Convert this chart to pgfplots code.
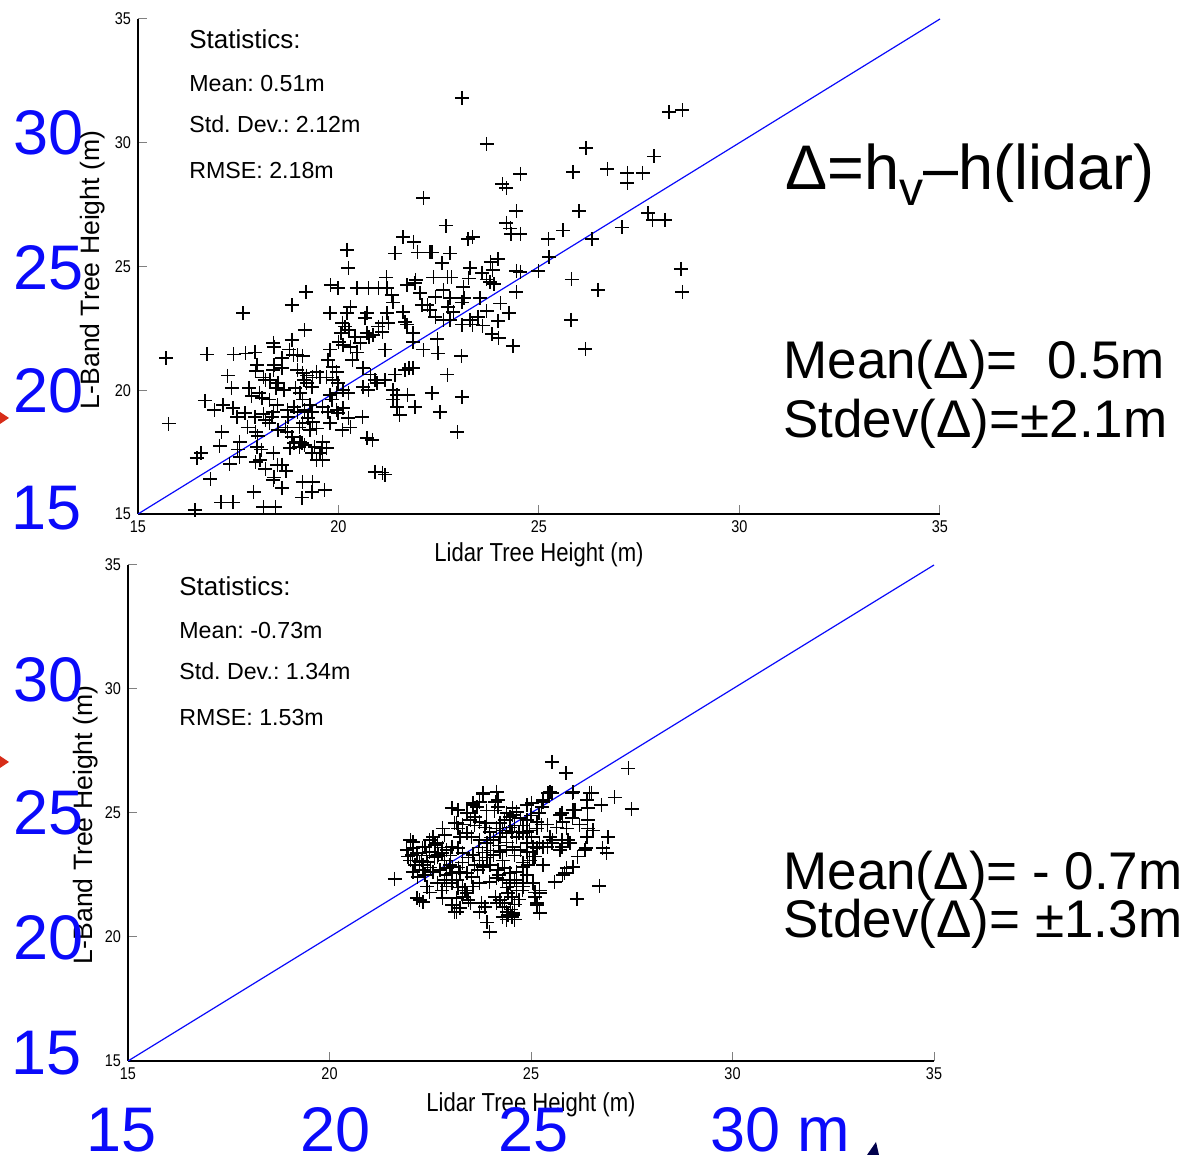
\documentclass[border=0pt]{standalone}
\usepackage{pgfplots}
\pgfplotsset{compat=1.18}
\usepackage{fontspec}
\setmainfont{Liberation Sans}
\newfontfamily\narrow[FakeStretch=0.85]{Liberation Sans}
\definecolor{slideblue}{RGB}{10,10,250}
\definecolor{slidered}{RGB}{215,45,25}
\frenchspacing

% L-band vs lidar tree heights, two campaigns
\pgfplotstableread{
x y
23.08 31.81
28.24 31.24
28.57 31.32
23.70 29.95
26.17 29.79
27.87 29.46
24.53 28.74
25.85 28.82
26.70 28.94
27.20 28.78
27.20 28.37
27.59 28.78
24.08 28.33
24.18 28.17
24.43 27.24
26.00 27.24
27.72 27.16
27.84 26.88
28.14 26.88
27.07 26.59
22.68 26.64
24.18 26.76
24.28 26.55
24.30 26.31
24.53 26.31
25.60 26.47
23.23 26.11
23.35 26.19
25.23 26.11
26.32 26.11
22.33 25.58
22.78 25.54
22.58 25.14
23.98 25.30
23.80 25.18
25.25 25.38
28.54 24.90
22.36 24.57
22.71 24.57
22.81 24.57
23.28 24.94
23.25 24.53
23.58 24.74
23.85 24.86
23.70 24.49
23.78 24.37
23.88 24.29
24.43 24.82
24.53 24.78
24.98 24.82
25.82 24.49
28.57 23.97
26.47 24.05
24.43 23.97
22.61 24.05
22.41 23.77
23.11 24.17
23.13 23.73
23.08 23.56
22.78 23.73
22.73 23.36
23.53 23.73
24.03 23.52
23.70 23.20
23.48 22.96
23.28 22.84
24.25 23.12
22.86 23.16
22.78 22.84
22.61 22.84
22.41 22.96
23.08 22.64
23.35 22.64
23.60 22.60
23.98 22.80
25.80 22.84
23.83 22.27
24.00 22.11
22.46 22.07
24.35 21.79
26.15 21.67
22.48 21.50
23.06 21.38
22.11 27.77
21.61 26.19
21.88 25.99
21.41 25.54
21.98 25.58
22.28 25.58
20.21 25.67
20.24 24.94
21.19 24.57
21.93 24.45
19.19 23.97
17.62 23.12
19.81 24.25
15.70 21.30
15.77 18.64
16.42 15.16
16.72 21.46
16.67 19.57
16.90 19.20
17.09 18.31
17.04 17.75
16.57 17.46
16.47 17.26
16.80 16.41
17.07 15.48
17.37 15.48
17.24 20.58
17.34 20.09
17.39 21.46
17.12 19.40
17.37 19.28
17.47 18.92
17.69 21.50
17.92 21.54
17.97 21.02
17.94 20.78
18.12 20.53
18.17 20.41
17.77 20.09
17.84 19.77
18.02 19.89
18.09 19.69
17.67 19.08
17.92 18.92
18.12 19.04
18.17 18.80
17.74 18.51
17.94 18.31
17.99 18.15
17.54 17.91
17.49 17.59
17.54 17.30
17.29 17.02
17.97 17.71
18.07 17.59
17.94 17.10
18.04 17.18
18.17 16.82
18.37 21.91
18.39 21.75
18.59 21.30
18.39 21.02
18.37 20.82
18.59 20.90
18.29 20.41
18.49 20.29
18.44 20.09
18.64 20.01
18.27 19.61
18.47 19.40
18.37 19.12
18.34 18.92
18.27 18.68
18.49 18.39
18.72 19.20
18.89 19.32
18.97 19.12
18.74 18.92
18.67 18.51
18.72 18.31
18.84 18.11
18.89 17.87
19.04 17.91
19.02 17.71
18.79 17.67
18.37 17.46
18.47 16.98
18.59 16.98
18.69 16.74
18.37 16.37
18.39 16.49
18.59 16.05
17.89 15.89
18.12 15.28
18.42 15.28
18.84 23.44
18.84 22.03
18.77 21.63
18.87 21.42
18.97 21.42
19.16 22.43
19.11 21.38
18.97 20.82
19.11 20.70
19.14 20.41
19.21 20.29
19.34 20.13
19.21 20.58
19.36 20.53
19.46 20.74
19.54 20.53
18.92 20.09
19.04 19.89
19.11 19.61
19.29 19.40
19.16 19.20
19.34 19.12
19.24 18.88
19.11 18.68
19.02 18.51
19.36 18.72
19.29 18.39
19.46 18.47
19.09 17.87
19.16 17.79
19.41 17.71
19.34 17.46
19.46 17.18
19.59 17.67
19.71 17.67
19.11 16.29
19.09 15.65
19.36 16.29
19.66 15.97
19.34 15.89
19.79 23.12
19.79 21.63
19.74 21.22
19.86 20.94
19.96 20.74
19.71 20.53
19.86 20.41
19.99 20.29
20.11 20.01
20.24 19.89
19.96 19.89
19.79 19.81
19.84 19.61
19.61 19.32
19.74 19.12
19.96 19.20
19.99 19.08
20.11 19.28
19.79 18.68
20.09 18.39
20.29 18.51
20.24 18.88
19.61 17.91
19.54 17.46
19.61 17.18
19.99 24.13
20.21 23.12
20.29 23.36
20.09 22.72
20.16 22.56
20.06 22.31
20.26 22.43
20.01 21.95
20.11 21.83
20.29 21.75
20.41 22.15
20.54 21.91
20.46 21.54
20.34 21.22
20.46 24.13
20.74 24.13
20.99 24.13
20.71 23.12
20.66 22.92
20.71 22.31
20.76 22.15
20.86 22.23
21.21 24.13
21.33 23.85
21.36 23.56
21.21 23.12
21.24 22.72
21.09 22.72
20.99 22.56
21.09 22.35
20.61 20.90
20.79 20.62
20.91 20.41
20.61 20.13
20.74 20.01
20.96 20.29
21.16 20.41
20.59 18.92
20.71 18.07
20.84 17.99
20.91 16.70
21.09 16.66
21.16 16.58
21.16 21.63
21.41 20.62
21.36 20.01
21.46 19.81
21.73 19.81
21.91 19.32
21.53 19.00
21.36 19.61
21.46 19.32
21.61 23.16
21.66 22.76
21.71 22.64
21.86 22.31
21.86 21.95
21.71 24.25
21.91 24.33
22.03 23.93
22.08 23.44
22.21 23.44
22.28 23.24
21.76 20.90
21.86 20.90
21.66 20.82
22.11 21.63
22.33 19.89
22.53 19.12
22.96 18.31
22.71 20.62
23.08 19.73
}\toptable

\pgfplotstableread{
x y
25.52 27.06
25.87 26.61
27.41 26.81
26.04 25.85
26.46 25.81
26.39 25.52
27.08 25.64
26.74 25.32
27.50 25.16
26.09 25.12
26.41 25.20
26.41 24.72
26.91 24.03
26.78 23.59
26.88 23.39
26.36 23.59
26.16 23.23
26.04 22.82
25.89 22.78
25.79 22.50
25.84 22.58
25.59 22.22
26.69 22.06
26.14 21.53
21.62 22.34
23.98 20.20
23.91 20.60
24.40 20.69
24.53 20.81
24.30 20.81
23.16 21.01
23.24 21.17
23.73 21.01
22.24 21.49
22.32 21.41
22.17 21.57
22.49 21.81
22.81 21.57
25.15 21.37
25.22 20.97
25.10 21.81
25.22 21.77
23.81 25.81
24.15 25.85
23.73 25.44
24.11 25.44
24.18 25.24
23.56 25.40
23.66 25.24
23.04 25.20
23.19 25.12
23.41 25.00
23.49 24.72
23.61 24.84
24.55 25.20
24.65 25.04
24.90 25.32
25.02 25.40
25.30 25.52
25.42 25.81
25.52 25.81
25.72 24.92
26.02 24.80
26.21 24.52
26.41 24.39
25.79 24.64
25.89 24.39
25.64 24.43
22.81 24.39
22.86 24.11
23.11 24.60
23.19 24.39
23.24 24.03
23.41 24.19
23.53 24.03
23.73 24.64
23.86 24.43
23.98 24.23
24.15 24.39
24.23 24.60
24.35 24.72
24.48 24.84
24.55 24.92
24.73 24.80
24.90 24.72
23.73 23.91
23.91 23.79
24.06 23.91
24.23 24.03
24.40 24.19
24.53 24.23
24.65 24.03
24.80 24.19
24.97 24.31
25.15 24.39
25.27 24.52
22.00 23.91
22.07 23.59
22.05 23.31
22.17 23.39
22.37 23.63
22.49 23.91
22.57 24.03
22.67 23.79
21.92 23.51
21.95 23.23
22.24 23.02
22.32 22.90
22.44 23.02
22.67 23.23
22.79 23.39
22.91 23.51
23.04 23.63
23.19 23.59
23.31 23.39
23.44 23.19
23.56 23.31
23.73 23.10
23.91 23.19
24.06 23.31
24.23 23.43
24.40 23.51
24.55 23.63
24.73 23.51
24.90 23.43
25.05 23.63
25.22 23.79
25.40 23.63
25.54 23.91
25.77 23.91
25.77 23.63
25.72 23.51
22.07 22.62
22.19 22.42
22.37 22.50
22.57 22.62
22.74 22.70
22.91 22.78
23.06 22.82
23.24 22.62
23.41 22.58
23.53 22.42
23.68 22.70
23.81 22.82
23.98 22.90
24.18 22.70
24.35 22.78
24.48 22.58
24.65 22.62
24.80 22.82
24.92 22.90
25.05 23.23
22.42 22.02
22.67 22.18
22.86 22.30
23.04 22.18
23.19 21.98
23.36 21.89
23.56 22.02
23.73 22.18
23.98 22.22
24.15 22.38
24.30 22.30
24.48 22.18
24.65 22.02
24.80 22.02
25.05 22.18
23.31 21.61
23.44 21.49
23.49 21.37
24.11 21.61
24.23 21.49
24.35 21.37
24.43 21.77
24.53 21.61
24.65 21.89
24.30 21.21
24.40 21.01
24.43 20.89
24.55 20.97
23.16 21.57
23.04 21.29
23.78 21.37
23.86 21.21
22.07 23.83
22.29 23.10
22.12 22.90
22.32 22.70
22.00 23.10
22.62 23.71
22.49 23.43
22.69 23.31
22.86 23.10
22.99 22.90
23.04 22.58
23.16 24.60
23.31 24.52
23.56 25.32
23.81 25.73
24.18 25.52
23.16 22.30
23.31 22.02
23.41 21.77
23.11 21.01
24.15 21.37
22.79 21.89
22.91 22.02
26.51 25.81
26.54 24.31
26.39 24.03
26.34 23.51
26.04 25.12
25.77 25.00
25.92 23.91
25.97 23.79
25.47 25.85
26.02 25.81
25.30 25.44
25.27 25.24
25.15 24.64
25.40 24.52
25.47 24.03
25.52 23.79
25.30 23.63
25.15 23.59
25.10 23.23
24.97 23.10
24.48 24.43
24.90 24.23
25.02 24.03
24.90 23.79
24.80 22.18
24.78 21.89
25.10 21.61
25.15 21.29
25.22 21.89
24.55 20.89
23.60 24.50
23.90 24.60
24.00 24.00
24.30 24.30
24.60 24.50
24.70 24.20
24.20 23.70
24.40 23.80
24.00 23.50
23.80 23.40
24.60 23.30
24.80 23.00
24.30 23.10
24.00 22.90
23.60 22.90
23.30 23.00
23.00 23.30
22.80 23.60
22.60 23.20
22.40 23.30
22.30 23.60
22.50 22.80
22.90 22.50
23.20 22.80
23.70 23.60
24.10 25.10
24.40 25.00
23.90 25.10
24.80 24.50
25.00 24.90
25.20 25.00
24.20 22.50
24.60 22.30
24.40 22.00
24.60 21.30
24.50 21.10
24.70 21.50
24.60 20.70
24.90 22.50
25.30 22.90
}\bottable

\pgfplotsset{
  lband/.style={
    scale only axis, anchor=south west,
    xmin=15, xmax=35, ymin=15, ymax=35,
    axis x line*=bottom, axis y line*=left,
    axis line style={line width=0.8pt},
    tick align=inside, major tick length=4.5pt,
    tick style={line width=0.5pt},
    xtick={15,20,...,35}, ytick={15,20,...,35},
    /pgf/number format/assume math mode=true,
    tick label style={font=\narrow\fontsize{8.5}{9}\selectfont},
    xlabel={Lidar Tree Height (m)},
    ylabel={L-Band Tree Height (m)},
    xlabel style={font=\narrow\fontsize{13}{14}\selectfont, anchor=center},
    ylabel style={font=\fontsize{13.3}{14}\selectfont, anchor=center},
    clip=false,
  },
  pts/.style={only marks, mark=+, mark size=3.5pt, black,
    mark options={line width=0.6pt}},
  oneone/.style={slideblue, line width=0.6pt},
}

\begin{document}
\begin{tikzpicture}[x=0.5pt, y=0.5pt]
% coordinates below are pixels, measured upward from the bottom edge
\path[use as bounding box] (0,0) rectangle (1196,1155);

\begin{axis}[lband, at={(69pt,320.5pt)}, width=401pt, height=247.5pt,
  xlabel style={at={(axis description cs:0.5,-0.083)}},
  ylabel style={at={(axis description cs:-0.057,0.493)}}]
\addplot[pts] table {\toptable};
\addplot[oneone] coordinates {(15,15) (35,35)};
\end{axis}

\begin{axis}[lband, at={(64pt,47pt)}, width=403pt, height=248pt,
  xlabel style={at={(axis description cs:0.5,-0.089)}},
  ylabel style={at={(axis description cs:-0.053,0.476)}}]
\addplot[pts] table {\bottable};
\addplot[oneone] coordinates {(15,15) (35,35)};
\end{axis}

% statistics boxes
\begin{scope}[every node/.style={anchor=base west, inner sep=0pt}]
\node[font=\fontsize{13}{15}\selectfont] at (189,1106) {Statistics:};
\node[font=\fontsize{11.6}{14}\selectfont] at (189,1063) {Mean: 0.51m};
\node[font=\fontsize{11.6}{14}\selectfont] at (189,1022) {Std. Dev.: 2.12m};
\node[font=\fontsize{11.6}{14}\selectfont] at (189,976) {RMSE: 2.18m};

\node[font=\fontsize{13}{15}\selectfont] at (179,559) {Statistics:};
\node[font=\fontsize{11.6}{14}\selectfont] at (179,516) {Mean: -0.73m};
\node[font=\fontsize{11.6}{14}\selectfont] at (179,475) {Std. Dev.: 1.34m};
\node[font=\fontsize{11.6}{14}\selectfont] at (179,429) {RMSE: 1.53m};

% slide annotations
\node[font=\fontsize{31.5}{32}\selectfont] at (785,965)
  {Δ=h\raisebox{-0.24em}{\fontsize{24}{24}\selectfont v}–h(lidar)};
\node[font=\fontsize{26.5}{28}\selectfont] at (783,776) {Mean(Δ)=\ \ 0.5m};
\node[font=\fontsize{26.5}{28}\selectfont] at (783,717) {Stdev(Δ)=±2.1m};
\node[font=\fontsize{26.5}{28}\selectfont] at (783,265) {Mean(Δ)= - 0.7m};
\node[font=\fontsize{26.5}{28}\selectfont] at (783,217) {Stdev(Δ)= ±1.3m};

\begin{scope}[every node/.append style={text=slideblue, font=\fontsize{31.5}{32}\selectfont}]
\node at (13,1000) {30};
\node at (13,865) {25};
\node at (13,742) {20};
\node at (11,625) {15};
\node at (13,453) {30};
\node at (13,320) {25};
\node at (13,195) {20};
\node at (11,80) {15};
\node at (86,3) {15};
\node at (300,3) {20};
\node at (498,3) {25};
\node at (710,3) {30 m};
\end{scope}
\end{scope}

\fill[slidered] (0,743) -- (9,737) -- (0,731) -- cycle;
\fill[slidered] (0,399) -- (9,393) -- (0,387) -- cycle;
\fill[black!70!blue] (867,0) -- (876,13) -- (879,0) -- cycle;
\end{tikzpicture}
\end{document}
